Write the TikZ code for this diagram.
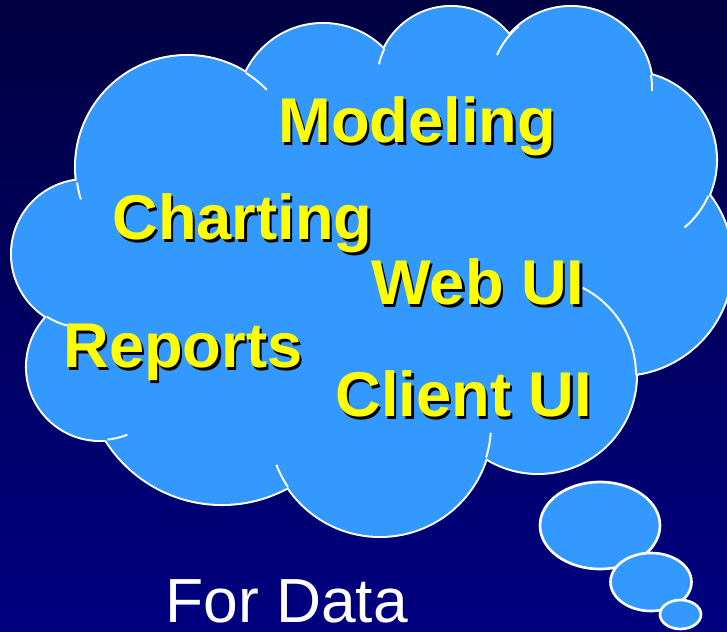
\documentclass[tikz,border=0pt]{standalone}
\usepackage{fontspec}
\setmainfont{Liberation Sans}
\usepackage{xcolor}
\usetikzlibrary{positioning}

\definecolor{skytop}{RGB}{0,0,66}
\definecolor{skybottom}{RGB}{0,0,128}
\definecolor{cloudblue}{RGB}{51,153,255}
\definecolor{wordyellow}{RGB}{255,255,0}

\newcommand{\dropshadow}[1]{\makebox[0pt][l]{\hspace{1.4pt}\raisebox{-1.4pt}{\color{black}#1}}#1}

\begin{document}
\begin{tikzpicture}[
        x=0.02cm, y=0.02cm,
        outer rim/.style={draw=white, line width=2.3pt},
        rim/.style={white, line width=1.1pt},
        bubble/.style={draw=white, fill=cloudblue, line width=1.5pt},
        word/.style={inner sep=0pt, anchor=base west, text=wordyellow, font=\bfseries\fontsize{36}{40}\selectfont},
        caption/.style={inner sep=0pt, anchor=base west, text=white, font=\fontsize{35.5}{40}\selectfont}
    ]
        % Background
        \useasboundingbox (0,0) rectangle (727,632);
        \shade[top color=skytop, bottom color=skybottom] (0,0) rectangle (727,632);

        % Lobes of the cloud
        \coordinate (lobeA) at (187,465);
        \coordinate (lobeB) at (323,523);
        \coordinate (lobeC) at (451,551);
        \coordinate (lobeD) at (571,544);
        \coordinate (lobeE) at (628,472);
        \coordinate (lobeF) at (620,369);
        \coordinate (lobeG) at (538,257);
        \coordinate (lobeH) at (380,207);
        \coordinate (lobeI) at (222,265);
        \coordinate (lobeJ) at (100,265);
        \coordinate (lobeK) at (86,378);

        \path[outer rim] (lobeA) circle[radius=111] (lobeB) circle[radius=85]
            (lobeC) circle[radius=74] (lobeD) circle[radius=81]
            (lobeE) circle[radius=88] (lobeF) circle[radius=112]
            (lobeG) circle[radius=98] (lobeH) circle[radius=111]
            (lobeI) circle[radius=137] (lobeJ) circle[radius=73]
            (lobeK) circle[radius=74];
        \fill[cloudblue] (lobeA) circle[radius=111] (lobeB) circle[radius=85]
            (lobeC) circle[radius=74] (lobeD) circle[radius=81]
            (lobeE) circle[radius=88] (lobeF) circle[radius=112]
            (lobeG) circle[radius=98] (lobeH) circle[radius=111]
            (lobeI) circle[radius=137] (lobeJ) circle[radius=73]
            (lobeK) circle[radius=74];
        \fill[cloudblue] (lobeA) -- (lobeB) -- (lobeC) -- (lobeD) -- (lobeE) -- (lobeF)
            -- (lobeG) -- (lobeH) -- (lobeI) -- (lobeJ) -- (lobeK) -- cycle;

        % Inner hooks
        \draw[rim] (lobeA) ++(58:111) arc[start angle=58, end angle=44, radius=111];
        \draw[rim] (lobeC) ++(154:74) arc[start angle=154, end angle=167, radius=74];
        \draw[rim] (lobeD) ++(130:81) arc[start angle=130, end angle=156, radius=81];
        \draw[rim] (lobeD) ++(9:81) arc[start angle=9, end angle=-2, radius=81];
        \draw[rim] (lobeE) ++(-24:88) arc[start angle=-24, end angle=-50, radius=88];
        \draw[rim] (lobeG) ++(63:98) arc[start angle=63, end angle=0, radius=98];
        \draw[rim] (lobeH) ++(-4:111) arc[start angle=-4, end angle=-17, radius=111];
        \draw[rim] (lobeH) ++(214:111) arc[start angle=214, end angle=201, radius=111];
        \draw[rim] (lobeJ) ++(-84:73) arc[start angle=-84, end angle=-68, radius=73];
        \draw[rim] (lobeK) ++(238:74) arc[start angle=238, end angle=255, radius=74];
        \draw[rim] (lobeA) ++(188:111) arc[start angle=188, end angle=197, radius=111];

        % Thought bubbles
        \draw[bubble] (600,106.5) ellipse[x radius=60, y radius=43.5];
        \draw[bubble] (651,50) ellipse[x radius=40.5, y radius=29];
        \draw[bubble] (680.5,17.5) ellipse[x radius=20.5, y radius=14.5];

        % Words
        \node[word] (modeling) at (278,489) {\dropshadow{Modeling}};
        \node[word] (charting) at (112,392) {\dropshadow{Charting}};
        \node[word] (webui) at (371,327) {\dropshadow{Web UI}};
        \node[word] (reports) at (63,264) {\dropshadow{Reports}};
        \node[word] (clientui) at (335,215) {\dropshadow{Client UI}};
        \node[caption] (fordata) at (165,9) {For Data};
    \end{tikzpicture}
\end{document}
